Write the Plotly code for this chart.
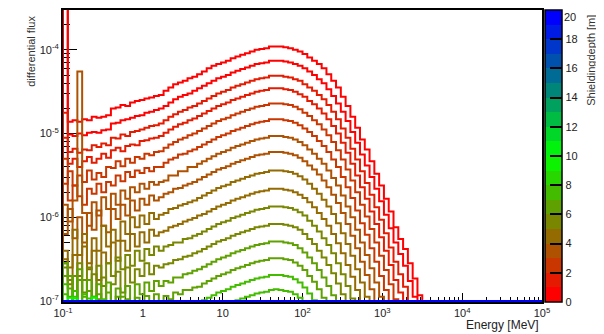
import numpy as np
import plotly.graph_objects as go

# ---------------- data (log10 of differential flux per energy bin) ----------------
ENERGY_MIN = 0.1      # MeV, lower edge of first bin
ENERGY_MAX = 1e5      # MeV, upper edge of last bin
N_BINS = 100          # log-spaced bins; bins not listed are empty

DEPTH_MIN, DEPTH_MAX = 0, 20
DEPTH_TICKS = [0, 2, 4, 6, 8, 10, 12, 14, 16, 18, 20]

X_TICKS = [0.1, 1, 10, 100, 1e3, 1e4, 1e5]
X_TICK_TEXT = ["10<sup>-1</sup>", "1", "10", "10<sup>2</sup>", "10<sup>3</sup>", "10<sup>4</sup>", "10<sup>5</sup>"]
Y_TICKS = [1e-7, 1e-6, 1e-5, 1e-4]
Y_TICK_TEXT = ["10<sup>-7</sup>", "10<sup>-6</sup>", "10<sup>-5</sup>", "10<sup>-4</sup>"]

flux_d0_0 = [-3.30, -4.86, -4.84, -4.86, -4.83, -4.84, -4.80, -4.81, -4.80, -4.78,
             -4.70, -4.69, -4.66, -4.67, -4.63, -4.61, -4.60, -4.58, -4.57, -4.55,
             -4.54, -4.49, -4.45, -4.41, -4.39, -4.37, -4.34, -4.32, -4.29, -4.26,
             -4.22, -4.19, -4.17, -4.15, -4.13, -4.10, -4.08, -4.06, -4.04, -4.02,
             -4.00, -3.99, -3.98, -3.96, -3.96, -3.96, -3.97, -3.98, -4.00, -4.02,
             -4.05, -4.09, -4.13, -4.17, -4.22, -4.29, -4.37, -4.45, -4.56, -4.67,
             -4.80, -4.93, -5.07, -5.19, -5.33, -5.48, -5.62, -5.78, -5.93, -6.12,
             -6.26, -6.38, -6.55, -6.73, -6.93]
flux_d0_5 = [-3.45, -5.01, -5.03, -5.00, -5.02, -4.99, -4.98, -4.99, -4.96, -4.95,
             -4.88, -4.87, -4.84, -4.83, -4.81, -4.79, -4.78, -4.75, -4.74, -4.72,
             -4.70, -4.67, -4.63, -4.59, -4.56, -4.54, -4.52, -4.49, -4.46, -4.43,
             -4.40, -4.37, -4.34, -4.32, -4.30, -4.27, -4.25, -4.23, -4.21, -4.19,
             -4.17, -4.16, -4.15, -4.13, -4.13, -4.13, -4.14, -4.15, -4.17, -4.19,
             -4.22, -4.26, -4.30, -4.35, -4.40, -4.47, -4.55, -4.64, -4.74, -4.85,
             -4.98, -5.11, -5.25, -5.38, -5.52, -5.66, -5.81, -5.97, -6.13, -6.30,
             -6.44, -6.58, -6.76, -6.95]
flux_d1_0 = [-4.75, -5.22, -5.18, -5.23, -5.19, -5.20, -5.14, -5.16, -5.12, -5.14,
             -5.05, -5.06, -5.01, -5.03, -4.98, -4.97, -4.95, -4.93, -4.91, -4.90,
             -4.88, -4.84, -4.80, -4.77, -4.74, -4.72, -4.69, -4.67, -4.64, -4.61,
             -4.58, -4.55, -4.52, -4.50, -4.48, -4.45, -4.43, -4.41, -4.39, -4.37,
             -4.35, -4.34, -4.33, -4.31, -4.31, -4.31, -4.32, -4.33, -4.35, -4.37,
             -4.41, -4.45, -4.49, -4.54, -4.59, -4.66, -4.74, -4.83, -4.94, -5.05,
             -5.18, -5.31, -5.45, -5.59, -5.73, -5.88, -6.03, -6.19, -6.36, -6.53,
             -6.68, -6.83, -7.02]
flux_d1_5 = [-5.05, -5.36, -5.30, -5.40, -5.33, -5.28, -5.35, -5.30, -5.24, -5.29,
             -5.20, -5.17, -5.21, -5.15, -5.13, -5.14, -5.09, -5.08, -5.06, -5.05,
             -5.03, -4.99, -4.95, -4.92, -4.89, -4.87, -4.84, -4.82, -4.79, -4.76,
             -4.73, -4.70, -4.67, -4.65, -4.63, -4.60, -4.58, -4.56, -4.54, -4.52,
             -4.50, -4.49, -4.48, -4.46, -4.46, -4.46, -4.47, -4.48, -4.50, -4.53,
             -4.56, -4.61, -4.65, -4.70, -4.76, -4.83, -4.91, -5.00, -5.11, -5.23,
             -5.36, -5.50, -5.64, -5.78, -5.93, -6.08, -6.24, -6.40, -6.57, -6.75,
             -6.90, -7.06]
flux_d2_0 = [-5.60, -5.45, -5.62, -5.50, -5.58, -5.44, -5.55, -5.47, -5.52, -5.40,
             -5.41, -5.33, -5.39, -5.30, -5.35, -5.28, -5.30, -5.24, -5.26, -5.22,
             -5.21, -5.17, -5.13, -5.10, -5.07, -5.05, -5.02, -5.00, -4.97, -4.94,
             -4.91, -4.88, -4.85, -4.83, -4.81, -4.78, -4.76, -4.74, -4.72, -4.70,
             -4.68, -4.67, -4.66, -4.64, -4.64, -4.64, -4.65, -4.66, -4.68, -4.71,
             -4.75, -4.79, -4.84, -4.89, -4.95, -5.02, -5.10, -5.20, -5.31, -5.43,
             -5.56, -5.70, -5.85, -5.99, -6.14, -6.30, -6.46, -6.63, -6.80, -6.98,
             -7.14]
flux_d2_5 = [-5.30, -5.80, -5.62, -5.75, -5.85, -5.66, -5.72, -5.60, -5.70, -5.58,
             -5.62, -5.50, -5.57, -5.46, -5.52, -5.44, -5.47, -5.41, -5.45, -5.40,
             -5.40, -5.35, -5.31, -5.29, -5.25, -5.24, -5.21, -5.19, -5.16, -5.13,
             -5.10, -5.07, -5.04, -5.02, -5.00, -4.97, -4.95, -4.93, -4.91, -4.89,
             -4.87, -4.86, -4.85, -4.83, -4.83, -4.83, -4.84, -4.85, -4.87, -4.90,
             -4.94, -4.98, -5.03, -5.09, -5.15, -5.22, -5.31, -5.40, -5.52, -5.64,
             -5.77, -5.92, -6.07, -6.21, -6.37, -6.53, -6.70, -6.87, -7.05]
flux_d3_0 = [-5.85, -6.05, -5.80, -4.26, -5.95, -6.10, -5.82, -5.98, -5.76, -5.90,
             -5.72, -5.85, -5.68, -5.78, -5.64, -5.70, -5.60, -5.66, -5.58, -5.61,
             -5.58, -5.56, -5.50, -5.50, -5.45, -5.45, -5.40, -5.40, -5.36, -5.33,
             -5.30, -5.27, -5.24, -5.22, -5.20, -5.17, -5.15, -5.13, -5.11, -5.09,
             -5.07, -5.06, -5.05, -5.03, -5.03, -5.03, -5.04, -5.05, -5.07, -5.10,
             -5.14, -5.19, -5.24, -5.30, -5.36, -5.44, -5.53, -5.62, -5.74, -5.87,
             -6.00, -6.15, -6.30, -6.45, -6.61, -6.78, -6.95, -7.12]
flux_d3_5 = [-6.20, -5.90, -6.25, -6.00, -6.30, -5.95, -6.15, -5.92, -6.10, -6.18,
             -5.90, -6.02, -5.85, -5.98, -5.80, -5.92, -5.78, -5.85, -5.74, -5.80,
             -5.76, -5.72, -5.70, -5.66, -5.65, -5.62, -5.60, -5.58, -5.55, -5.52,
             -5.49, -5.46, -5.43, -5.41, -5.39, -5.36, -5.34, -5.32, -5.30, -5.28,
             -5.26, -5.25, -5.24, -5.22, -5.22, -5.22, -5.23, -5.24, -5.26, -5.29,
             -5.33, -5.38, -5.43, -5.49, -5.56, -5.64, -5.73, -5.83, -5.95, -6.08,
             -6.22, -6.37, -6.53, -6.69, -6.86, -7.03]
flux_d4_0 = [-6.40, -6.60, -6.15, -6.45, -6.20, -6.55, -6.25, -6.40, -6.10, -6.35,
             -6.15, -6.28, -6.05, -6.20, -6.00, -6.12, -5.98, -6.08, -5.95, -6.02,
             -5.97, -5.95, -5.90, -5.89, -5.86, -5.84, -5.82, -5.80, -5.77, -5.74,
             -5.71, -5.68, -5.65, -5.63, -5.61, -5.58, -5.56, -5.54, -5.52, -5.50,
             -5.48, -5.47, -5.46, -5.44, -5.44, -5.44, -5.45, -5.46, -5.48, -5.51,
             -5.55, -5.60, -5.66, -5.72, -5.79, -5.87, -5.96, -6.07, -6.19, -6.32,
             -6.46, -6.62, -6.78, -6.95, -7.12]
flux_d4_5 = [-6.50, -6.80, -6.45, -6.70, -6.35, -6.62, -6.40, -6.75, -6.42, -6.55,
             -6.30, -6.52, -6.28, -6.40, -6.20, -6.35, -6.18, -6.30, -6.15, -6.22,
             -6.18, -6.16, -6.12, -6.10, -6.08, -6.05, -6.03, -6.01, -5.98, -5.96,
             -5.93, -5.90, -5.87, -5.85, -5.83, -5.80, -5.78, -5.76, -5.74, -5.72,
             -5.70, -5.69, -5.68, -5.66, -5.66, -5.66, -5.67, -5.68, -5.70, -5.73,
             -5.77, -5.82, -5.88, -5.95, -6.02, -6.10, -6.20, -6.31, -6.43, -6.57,
             -6.71, -6.87, -7.04]
flux_d5_0 = [-6.60, -6.75, -7.10, -6.55, -6.90, -6.60, -6.95, -6.58, -6.82, -6.55,
             -6.70, -6.48, -6.62, -6.45, -6.58, -6.40, -6.52, -6.38, -6.45, -6.35,
             -6.40, -6.35, -6.33, -6.30, -6.30, -6.26, -6.25, -6.22, -6.20, -6.17,
             -6.14, -6.11, -6.08, -6.06, -6.04, -6.01, -5.99, -5.97, -5.95, -5.93,
             -5.91, -5.90, -5.89, -5.87, -5.87, -5.87, -5.88, -5.89, -5.91, -5.94,
             -5.98, -6.04, -6.10, -6.17, -6.25, -6.33, -6.43, -6.55, -6.68, -6.82,
             -6.97, -7.13]
flux_d5_5 = [-6.55, -6.95, -6.70, -7.20, -6.75, -7.05, -6.68, -6.98, -6.72, -7.10,
             -6.80, -6.65, -6.90, -6.60, -6.78, -6.62, -6.70, -6.55, -6.68, -6.58,
             -6.60, -6.56, -6.55, -6.51, -6.50, -6.47, -6.46, -6.43, -6.41, -6.38,
             -6.35, -6.32, -6.29, -6.27, -6.25, -6.22, -6.20, -6.18, -6.16, -6.14,
             -6.12, -6.11, -6.10, -6.08, -6.08, -6.08, -6.09, -6.10, -6.12, -6.15,
             -6.20, -6.26, -6.32, -6.40, -6.48, -6.57, -6.67, -6.79, -6.92, -7.06]
flux_d6_0 = [-6.55, -6.70, -7.05, -6.62, -6.95, -6.75, -7.15, -6.80, -7.00, -6.78,
             -7.10, -6.85, -6.95, -6.82, -7.05, -6.80, -6.92, -6.78, -6.88, -6.76,
             -6.82, -6.76, -6.78, -6.72, -6.72, -6.68, -6.67, -6.64, -6.62, -6.59,
             -6.56, -6.53, -6.50, -6.48, -6.46, -6.43, -6.41, -6.39, -6.37, -6.35,
             -6.33, -6.32, -6.31, -6.29, -6.29, -6.29, -6.30, -6.31, -6.33, -6.37,
             -6.42, -6.48, -6.55, -6.63, -6.72, -6.82, -6.93, -7.05]
flux_d6_5 = [-6.70, -6.85, -7.20, -6.75, -7.10, -6.88, -7.25, -6.92, -7.15, -6.90,
             -7.20, -6.95, -7.10, -6.98, -7.22, -6.96, -7.08, -6.94, -7.05, -6.92,
             -7.00, -6.94, -6.98, -6.90, -6.92, -6.87, -6.87, -6.84, -6.83, -6.79,
             -6.76, -6.73, -6.70, -6.68, -6.66, -6.63, -6.61, -6.59, -6.57, -6.55,
             -6.53, -6.52, -6.51, -6.49, -6.49, -6.49, -6.50, -6.51, -6.54, -6.58,
             -6.63, -6.70, -6.77, -6.86, -6.96, -7.07]
flux_d7_0 = [-6.80, -7.10, -6.88, -7.30, -6.92, -7.20, -6.95, -7.40, -6.98, -7.25,
             -7.05, -7.30, -7.02, -7.35, -7.08, -7.25, -7.10, -7.30, -7.12, -7.22,
             -7.15, -7.20, -7.10, -7.14, -7.08, -7.10, -7.05, -7.04, -7.01, -6.99,
             -6.96, -6.93, -6.90, -6.88, -6.86, -6.83, -6.81, -6.79, -6.77, -6.75,
             -6.73, -6.72, -6.71, -6.69, -6.69, -6.69, -6.70, -6.71, -6.74, -6.78,
             -6.84, -6.91, -6.99, -7.08]
flux_d7_5 = [-6.92, -7.30, -6.95, -7.40, -7.10, -6.97, -7.35, -7.50, -7.10, -7.40,
             -7.30, -7.50, -7.20, -7.45, -7.30, -7.40, -7.30, -7.45, -7.32, -7.40,
             -7.35, -7.38, -7.30, -7.33, -7.28, -7.28, -7.24, -7.23, -7.20, -7.17,
             -7.14, -7.11, -7.08, -7.05, -7.04, -7.01, -6.99, -6.97, -6.95, -6.93,
             -6.91, -6.90, -6.89, -6.87, -6.86, -6.87, -6.88, -6.89, -6.92, -6.96,
             -7.02, -7.10]
flux_d9_0 = [-7.50, -6.96, -6.97, -7.50, -7.50, -7.50, -6.96, -7.50]
flux_d20_0 = []   # all bins empty

SERIES = [
    (0.0, flux_d0_0), (0.5, flux_d0_5), (1.0, flux_d1_0), (1.5, flux_d1_5),
    (2.0, flux_d2_0), (2.5, flux_d2_5), (3.0, flux_d3_0), (3.5, flux_d3_5),
    (4.0, flux_d4_0), (4.5, flux_d4_5), (5.0, flux_d5_0), (5.5, flux_d5_5),
    (6.0, flux_d6_0), (6.5, flux_d6_5), (7.0, flux_d7_0), (7.5, flux_d7_5),
    (9.0, flux_d9_0), (20.0, flux_d20_0),
]

# ---------------- style ----------------
Y_RANGE = [-7.012, -3.524]
FLOOR = 1e-7          # empty bins are drawn on the frame bottom (ROOT style)
FONT = "Liberation Sans, Arial, Helvetica, sans-serif"
N_BANDS = 20
# the page body has an 8 px default margin, so the figure is sized to fit the 604x334 window
FIG_W, FIG_H = 596, 326


def band_color(j):
    t = j / (N_BANDS - 1)
    if t <= 0.5:
        r, g, b = 255 * (1 - 2 * t), 255 * 2 * t, 0
    else:
        r, g, b = 0, 255 * (2 - 2 * t), 255 * (2 * t - 1)
    return "rgb(%d,%d,%d)" % (round(r), round(g), round(b))


def depth_color(d):
    j = int(min(max((d - DEPTH_MIN) / (DEPTH_MAX - DEPTH_MIN) * N_BANDS, 0), N_BANDS - 1))
    return band_color(j)


colorscale = []
for j in range(N_BANDS):
    colorscale.append([j / N_BANDS, band_color(j)])
    colorscale.append([(j + 1) / N_BANDS, band_color(j)])

edges = np.logspace(np.log10(ENERGY_MIN), np.log10(ENERGY_MAX), N_BINS + 1)

fig = go.Figure()
for depth, logv in SERIES:
    padded = list(logv) + [None] * (N_BINS - len(logv))
    vals = [10 ** v if v is not None else FLOOR for v in padded]
    xs = [edges[0]] + list(edges[:-1]) + [edges[-1]]
    ys = [FLOOR] + vals + [vals[-1]]
    fig.add_trace(go.Scatter(
        x=xs, y=ys, mode="lines", line=dict(color=depth_color(depth), width=2, shape="hv"),
        showlegend=False, hoverinfo="skip"))

# colour bar carrier (the top label is drawn as an annotation so it is not cut at the page edge)
cbar_text = [str(t) if t != DEPTH_MAX else "" for t in DEPTH_TICKS]
fig.add_trace(go.Scatter(
    x=[1], y=[1e-6], mode="markers",
    marker=dict(size=0.1, opacity=0, color=[DEPTH_MIN], cmin=DEPTH_MIN, cmax=DEPTH_MAX,
                colorscale=colorscale, showscale=True,
                colorbar=dict(x=1.006, xanchor="left", y=0.5, yanchor="middle", len=1, lenmode="fraction",
                              thickness=17, xpad=0, ypad=0, outlinewidth=1.5, outlinecolor="black",
                              ticks="inside", ticklen=12, tickwidth=2, tickcolor="black",
                              ticklabeloverflow="allow",
                              tickmode="array", tickvals=DEPTH_TICKS, ticktext=cbar_text,
                              tickfont=dict(family=FONT, size=11, color="#222"))),
    showlegend=False, hoverinfo="skip"))

x_minor = [m * 10.0 ** e for e in range(-1, 5) for m in range(2, 10)]
y_minor = [m * 10.0 ** e for e in range(-7, -3) for m in range(2, 10)]

fig.update_xaxes(type="log", range=[np.log10(ENERGY_MIN), np.log10(ENERGY_MAX)], automargin=False,
                 showgrid=False, zeroline=False, showline=True, linecolor="black", linewidth=2, mirror=True,
                 layer="below traces",
                 tickmode="array", tickvals=X_TICKS, ticktext=X_TICK_TEXT,
                 ticks="inside", ticklen=9, tickwidth=1, tickcolor="black",
                 tickfont=dict(family=FONT, size=11, color="#222"),
                 minor=dict(tickmode="array", tickvals=x_minor, ticks="inside", ticklen=5, tickwidth=1,
                            tickcolor="black", showgrid=False))
fig.update_yaxes(type="log", range=Y_RANGE, automargin=False,
                 showgrid=False, zeroline=False, showline=True, linecolor="black", linewidth=2, mirror=True,
                 layer="below traces",
                 tickmode="array", tickvals=Y_TICKS, ticktext=Y_TICK_TEXT,
                 ticks="inside", ticklen=14, tickwidth=1, tickcolor="black",
                 tickfont=dict(family=FONT, size=11, color="#222"),
                 minor=dict(tickmode="array", tickvals=y_minor, ticks="inside", ticklen=7, tickwidth=1,
                            tickcolor="black", showgrid=False))

fig.update_layout(
    width=FIG_W, height=FIG_H, margin=dict(l=55, r=62, t=2, b=32, autoexpand=False),
    paper_bgcolor="white", plot_bgcolor="white", showlegend=False,
    font=dict(family=FONT, size=11, color="#222"),
    annotations=[
        dict(text="differential flux", xref="paper", yref="paper", x=-0.067, y=0.860,
             xanchor="center", yanchor="middle", textangle=-90, showarrow=False,
             font=dict(family=FONT, size=11, color="#333")),
        dict(text="Shieldingdepth [m]", xref="paper", yref="paper", x=1.102, y=0.829,
             xanchor="center", yanchor="middle", textangle=-90, showarrow=False,
             font=dict(family=FONT, size=11, color="#333")),
        dict(text="Energy [MeV]", xref="paper", yref="paper", x=0.997, y=-0.079,
             xanchor="right", yanchor="middle", showarrow=False,
             font=dict(family=FONT, size=12, color="#222")),
        dict(text=str(DEPTH_MAX), xref="paper", yref="paper", x=1.044, y=1.0, borderpad=0,
             xanchor="left", yanchor="top", showarrow=False,
             font=dict(family=FONT, size=11, color="#222")),
    ],
)

fig.write_html("out.html")
